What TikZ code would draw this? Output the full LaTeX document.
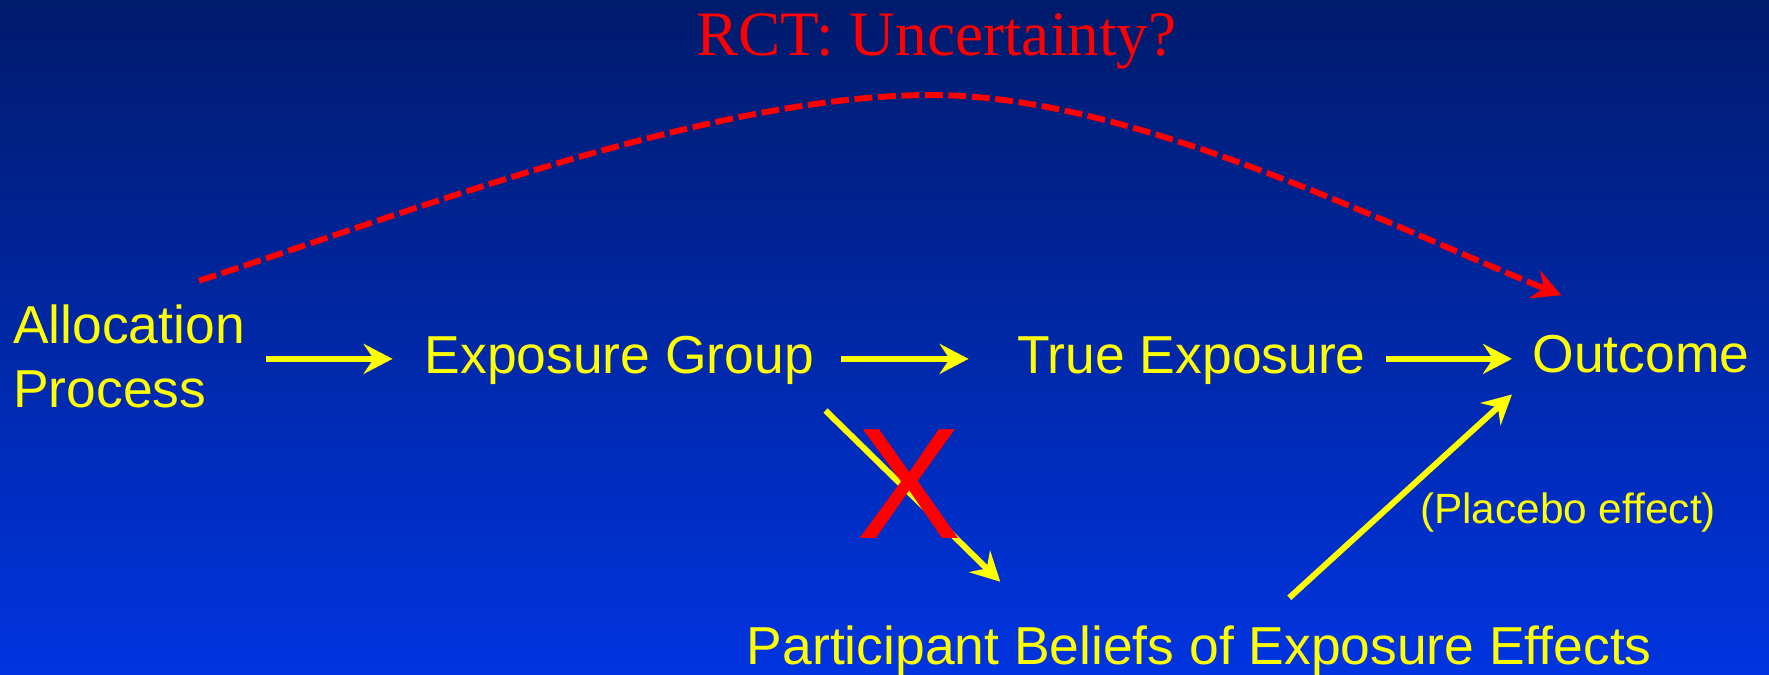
\documentclass[tikz,border=0pt]{standalone}
\usepackage{fontspec}
\setmainfont{Liberation Sans}
\newfontfamily\titlefont{Liberation Serif}
\usepackage{tikz}
\usetikzlibrary{arrows.meta,positioning}
\definecolor{bgtop}{RGB}{0,27,108}
\definecolor{bgbot}{RGB}{0,52,224}
\definecolor{slideyellow}{RGB}{255,255,0}
\definecolor{slidered}{RGB}{255,0,0}

\begin{document}
\begin{tikzpicture}[
  font=\fontsize{15.2}{18.2}\selectfont,
  var/.style={text=slideyellow, inner xsep=2mm, inner ysep=1mm},
  rowvar/.style={var, text height=11.4pt, text depth=3.35pt, anchor=base},
  arr/.style={-{Stealth[length=2.9mm, width=3mm, inset=1mm]}, line width=1.7pt,
              draw=slideyellow},
  doubt/.style={-{Stealth[length=2.9mm, width=3mm, inset=1mm]}, line width=1.7pt,
                draw=slidered, dash pattern=on 1.8mm off 0.55mm},
  lab/.style={var, font=\fontsize{12.05}{14.5}\selectfont}
]
% slide background
\shade[use as bounding box, top color=bgtop, bottom color=bgbot]
  (0,0) rectangle (17.69,-6.74);
% title
\node[text=slidered, font=\titlefont\fontsize{18}{22}\selectfont, anchor=base]
  (title) at (9.365,-0.55) {RCT: Uncertainty?};
% main row
\node[var, align=left] (alloc) at (1.29,-3.56) {Allocation\\Process};
\node[rowvar] (expo) at (6.193,-3.73) {Exposure Group};
\node[rowvar] (truex) at (11.915,-3.73) {True Exposure};
\node[rowvar] (outcome) at (16.41,-3.72) {Outcome};
% beliefs
\node[rowvar] (belief) at (11.993,-6.645) {Participant Beliefs of Exposure Effects};
\node[lab, anchor=base] (placebo) at (15.68,-5.23) {(Placebo effect)};
\coordinate (crest) at (9.31,-0.95);
% arrows
\draw[arr, shorten >=1.15mm] (alloc.east |- expo.west) -- (expo.west);
\draw[arr, shorten <=0.6mm, shorten >=2.8mm] (expo) -- (truex);
\draw[arr] (truex.east) -- (truex.east -| outcome.west);
\draw[arr] ([shift={(-0.09,-0.15)}]expo.south east)
  -- ([shift={(-1.99,0.32)}]belief.north);
\draw[arr] ([shift={(0.90,0.16)}]belief.north) -- (outcome.south west);
\draw[doubt] ([shift={(0.70,0.13)}]alloc.north)
  to[out=18, in=180, looseness=0.75] (crest)
  to[out=0, in=158, looseness=0.77] ([shift={(0.495,0.26)}]outcome.north west);
% crossed out path
\node[text=slidered, font=\fontsize{45}{54}\selectfont] (cross) at (9.09,-4.845) {X};
\end{tikzpicture}
\end{document}
